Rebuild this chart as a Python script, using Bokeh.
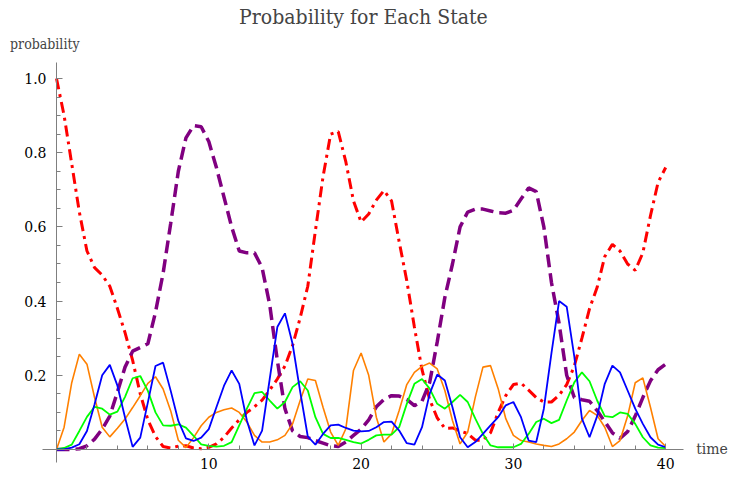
from bokeh.plotting import figure
from bokeh.models import Range1d, FixedTicker, Label
from bokeh.embed import file_html
from bokeh.resources import INLINE

time = [0.0, 0.5, 1.0, 1.5, 2.0, 2.5, 3.0, 3.5, 4.0, 4.5,
        5.0, 5.5, 6.0, 6.5, 7.0, 7.5, 8.0, 8.5, 9.0, 9.5,
        10.0, 10.5, 11.0, 11.5, 12.0, 12.5, 13.0, 13.5, 14.0, 14.5,
        15.0, 15.5, 16.0, 16.5, 17.0, 17.5, 18.0, 18.5, 19.0, 19.5,
        20.0, 20.5, 21.0, 21.5, 22.0, 22.5, 23.0, 23.5, 24.0, 24.5,
        25.0, 25.5, 26.0, 26.5, 27.0, 27.5, 28.0, 28.5, 29.0, 29.5,
        30.0, 30.5, 31.0, 31.5, 32.0, 32.5, 33.0, 33.5, 34.0, 34.5,
        35.0, 35.5, 36.0, 36.5, 37.0, 37.5, 38.0, 38.5, 39.0, 39.5,
        40.0]

red = [1.0, 0.9, 0.77, 0.64, 0.535, 0.49, 0.47, 0.44, 0.38, 0.315,
       0.24, 0.15, 0.08, 0.035, 0.008, 0.004, 0.009, 0.01, 0.004, 0.002,
       0.006, 0.015, 0.033, 0.058, 0.08, 0.1, 0.115, 0.133, 0.16, 0.19,
       0.225, 0.28, 0.355, 0.44, 0.59, 0.735, 0.85, 0.857, 0.775, 0.67,
       0.613, 0.635, 0.672, 0.698, 0.67, 0.56, 0.455, 0.33, 0.215, 0.135,
       0.085, 0.057, 0.058, 0.05, 0.043, 0.025, 0.025, 0.045, 0.1, 0.145,
       0.175, 0.179, 0.16, 0.14, 0.128, 0.128, 0.146, 0.175, 0.225, 0.3,
       0.38, 0.437, 0.52, 0.553, 0.535, 0.5, 0.483, 0.53, 0.63, 0.72,
       0.76]

purple = [0.0, 0.0, 0.0, 0.002, 0.01, 0.028, 0.055, 0.09, 0.155, 0.222,
          0.265, 0.275, 0.285, 0.37, 0.475, 0.61, 0.75, 0.84, 0.873, 0.87,
          0.83, 0.76, 0.68, 0.6, 0.535, 0.53, 0.53, 0.49, 0.39, 0.24,
          0.11, 0.05, 0.035, 0.032, 0.024, 0.017, 0.01, 0.008, 0.02, 0.038,
          0.055, 0.08, 0.115, 0.135, 0.145, 0.144, 0.135, 0.118, 0.13, 0.18,
          0.29, 0.41, 0.5, 0.6, 0.64, 0.648, 0.648, 0.643, 0.638, 0.637,
          0.645, 0.675, 0.705, 0.695, 0.6, 0.45, 0.34, 0.2, 0.14, 0.134,
          0.13, 0.105, 0.075, 0.045, 0.03, 0.048, 0.09, 0.14, 0.185, 0.215,
          0.23]

orange = [0.0, 0.06, 0.18, 0.257, 0.23, 0.14, 0.06, 0.034, 0.057, 0.082,
          0.113, 0.145, 0.178, 0.196, 0.163, 0.104, 0.025, 0.005, 0.032, 0.064,
          0.087, 0.1, 0.107, 0.112, 0.1, 0.074, 0.038, 0.02, 0.02, 0.026,
          0.038, 0.069, 0.132, 0.19, 0.186, 0.114, 0.047, 0.011, 0.056, 0.213,
          0.26, 0.2, 0.087, 0.02, 0.042, 0.105, 0.175, 0.208, 0.224, 0.233,
          0.217, 0.159, 0.078, 0.015, 0.047, 0.141, 0.222, 0.226, 0.164, 0.083,
          0.038, 0.024, 0.02, 0.015, 0.011, 0.008, 0.015, 0.029, 0.047, 0.078,
          0.105, 0.092, 0.06, 0.008, 0.024, 0.09, 0.18, 0.193, 0.114, 0.029,
          0.008]

green = [0.0, 0.004, 0.013, 0.05, 0.088, 0.115, 0.11, 0.094, 0.102, 0.142,
         0.192, 0.198, 0.158, 0.1, 0.065, 0.064, 0.068, 0.059, 0.037, 0.014,
         0.01, 0.008, 0.01, 0.02, 0.065, 0.11, 0.152, 0.155, 0.132, 0.11,
         0.128, 0.168, 0.184, 0.159, 0.087, 0.042, 0.031, 0.031, 0.026, 0.02,
         0.016, 0.026, 0.038, 0.04, 0.04, 0.06, 0.123, 0.177, 0.19, 0.164,
         0.123, 0.11, 0.128, 0.147, 0.128, 0.083, 0.042, 0.011, 0.006, 0.006,
         0.006, 0.015, 0.042, 0.074, 0.083, 0.071, 0.08, 0.132, 0.181, 0.208,
         0.184, 0.132, 0.09, 0.087, 0.1, 0.096, 0.069, 0.033, 0.011, 0.005,
         0.004]

blue = [0.0, 0.0, 0.005, 0.014, 0.05, 0.122, 0.2, 0.228, 0.172, 0.086,
        0.007, 0.032, 0.127, 0.225, 0.234, 0.158, 0.077, 0.03, 0.023, 0.032,
        0.055, 0.114, 0.172, 0.213, 0.177, 0.078, 0.011, 0.051, 0.19, 0.33,
        0.367, 0.285, 0.156, 0.035, 0.013, 0.042, 0.065, 0.067, 0.058, 0.051,
        0.049, 0.05, 0.06, 0.074, 0.075, 0.051, 0.017, 0.013, 0.06, 0.15,
        0.202, 0.186, 0.114, 0.033, 0.006, 0.02, 0.042, 0.065, 0.087, 0.119,
        0.128, 0.087, 0.024, 0.02, 0.11, 0.26, 0.4, 0.385, 0.25, 0.083,
        0.033, 0.09, 0.177, 0.226, 0.208, 0.159, 0.11, 0.069, 0.033, 0.013,
        0.006]

x_ticks = [10, 20, 30, 40]
x_tick_labels = ["10", "20", "30", "40"]
x_minor = [2, 4, 6, 8, 12, 14, 16, 18, 22, 24, 26, 28, 32, 34, 36, 38]
y_ticks = [0.2, 0.4, 0.6, 0.8, 1.0]
y_tick_labels = ["0.2", "0.4", "0.6", "0.8", "1.0"]
y_minor = [0.05, 0.1, 0.15, 0.25, 0.3, 0.35, 0.45, 0.5, 0.55, 0.65, 0.7, 0.75, 0.85, 0.9, 0.95]

SERIF = "DejaVu Serif"
SERIF_NARROW = "DejaVu Serif Condensed, DejaVu Serif"

p = figure(width=729, height=477, output_backend="svg", toolbar_location=None,
           x_range=Range1d(-3.677, 44.19), y_range=Range1d(-0.0755, 1.2102),
           min_border_left=0, min_border_right=0, min_border_top=0, min_border_bottom=0)
p.outline_line_color = None
p.xgrid.visible = False
p.ygrid.visible = False
p.background_fill_color = "white"
p.border_fill_color = "white"

for ax in (p.xaxis[0], p.yaxis[0]):
    ax.fixed_location = 0
    ax.axis_line_color = "#7f7f7f"
    ax.axis_line_width = 1
    ax.major_tick_line_color = "#7f7f7f"
    ax.minor_tick_line_color = "#7f7f7f"
    ax.major_tick_in = 6
    ax.major_tick_out = 0
    ax.minor_tick_in = 4
    ax.minor_tick_out = 0
    ax.major_label_text_font = SERIF
    ax.major_label_text_font_size = "14px"
    ax.major_label_text_color = "black"

p.xaxis[0].bounds = (-0.92, 41.17)
p.yaxis[0].bounds = (-0.035, 1.043)
p.xaxis[0].ticker = FixedTicker(ticks=x_ticks, minor_ticks=x_minor)
p.xaxis[0].major_label_overrides = dict(zip(x_ticks, x_tick_labels))
p.xaxis[0].major_label_standoff = 9
p.yaxis[0].ticker = FixedTicker(ticks=y_ticks, minor_ticks=y_minor)
p.yaxis[0].major_label_overrides = dict(zip(y_ticks, y_tick_labels))
p.yaxis[0].major_label_standoff = 10

p.line(time, red, line_color="#FF0000", line_width=3, line_dash="11 5 3 5")
p.line(time, purple, line_color="#800080", line_width=3.5, line_dash="13 6")
p.line(time, orange, line_color="#FF8000", line_width=1.6)
p.line(time, green, line_color="#00FF00", line_width=1.8)
p.line(time, blue, line_color="#0000FF", line_width=1.8)

p.add_layout(Label(x=20.35, y=1.166, text="Probability  for Each State", text_font=SERIF_NARROW,
                   text_font_size="21px", text_align="center", text_baseline="middle"))
p.add_layout(Label(x=-3.05, y=1.092, text="probability", text_font=SERIF_NARROW,
                   text_font_size="14px", text_align="left", text_baseline="middle"))
p.add_layout(Label(x=42.0, y=0.0, text="time", text_font=SERIF,
                   text_font_size="14px", text_align="left", text_baseline="middle"))

open("out.html", "w").write(file_html(p, INLINE))
